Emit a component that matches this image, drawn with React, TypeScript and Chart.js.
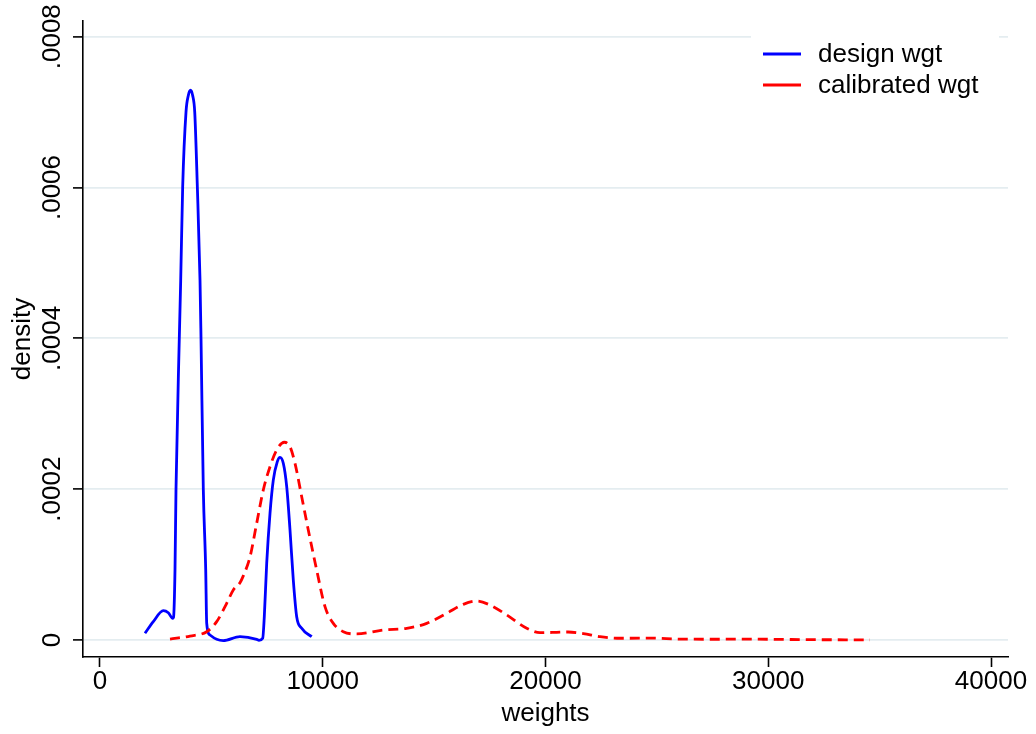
import React, { useEffect, useRef } from 'react';
import { Chart, registerables } from 'chart.js';

Chart.register(...registerables);

// design weight density (blue, solid)
const designX = [2020, 2393, 2842, 3066, 3264, 3300, 3367, 3412, 3560, 3623, 3712, 3861, 3965, 4063, 4160, 4253, 4370, 4490, 4535, 4638, 4746, 4790, 4938, 5239, 5535, 6285, 7035, 7138, 7304, 7376, 7484, 7632, 7780, 7960, 8081, 8229, 8382, 8530, 8678, 8830, 9055, 9504];
const designY = [8.9e-6, 2.43e-5, 3.89e-5, 3.62e-5, 2.88e-5, 3.0e-5, 9.3e-5, 2.0e-4, 4.0e-4, 4.77e-4, 6.01e-4, 7.0e-4, 7.22e-4, 7.29e-4, 7.22e-4, 7.0e-4, 6.01e-4, 4.77e-4, 4.0e-4, 2.0e-4, 9.3e-5, 2.25e-5, 6.6e-6, 9e-7, -9e-7, 4.4e-6, 9e-7, -4e-7, 2.3e-6, 3.09e-5, 1.017e-4, 1.68e-4, 2.12e-4, 2.365e-4, 2.423e-4, 2.344e-4, 2.033e-4, 1.459e-4, 7.96e-5, 3.09e-5, 1.55e-5, 4.4e-6];

// calibrated weight density (red, dashed)
const calibX = [3143, 4040, 4790, 5239, 5688, 5984, 6285, 6433, 6734, 7035, 7331, 7632, 7933, 8274, 8530, 8754, 9055, 9351, 9728, 10101, 10474, 10923, 11524, 12718, 13769, 14667, 15565, 16310, 16911, 17508, 18258, 19156, 19753, 20503, 21010, 21697, 22447, 23345, 24691, 26038, 27520, 29046, 30528, 32009, 33446, 34568];
const calibY = [1.3e-6, 5.3e-6, 1.1e-5, 2.43e-5, 4.87e-5, 6.63e-5, 7.6e-5, 8.5e-5, 1.1e-4, 1.548e-4, 1.989e-4, 2.298e-4, 2.52e-4, 2.622e-4, 2.564e-4, 2.344e-4, 1.9e-4, 1.459e-4, 9.28e-5, 4.42e-5, 2.21e-5, 1.1e-5, 8e-6, 1.33e-5, 1.55e-5, 2.21e-5, 3.54e-5, 4.73e-5, 5.17e-5, 4.64e-5, 3.32e-5, 1.55e-5, 9.7e-6, 1.02e-5, 1.06e-5, 8.6e-6, 4.4e-6, 2.3e-6, 2.5e-6, 1.2e-6, 1e-6, 1.2e-6, 8e-7, 4e-7, 3e-7, 2e-7];

const seriesLabels = ['design wgt', 'calibrated wgt'];
const xTickValues = [0, 10000, 20000, 30000, 40000];
const yTickValues = [0, 0.0002, 0.0004, 0.0006, 0.0008];
const yTickLabels = ['0', '.0002', '.0004', '.0006', '.0008'];
const xTitle = 'weights';
const yTitle = 'density';

const FONT = 'Liberation Sans, Arial, sans-serif';
const BLUE = '#0000ff';
const RED = '#ff0000';
const GRID = '#e4edf0';

const legendPlugin = {
  id: 'stataLegend',
  afterDraw(chart: any) {
    const { ctx, chartArea } = chart;
    const r = chartArea.right;
    const t = chartArea.top;
    ctx.save();
    ctx.fillStyle = '#ffffff';
    ctx.fillRect(r - 257, t + 8, 248, 82);
    const colors = [BLUE, RED];
    seriesLabels.forEach((lab, i) => {
      const y = t + 33 + i * 31;
      ctx.strokeStyle = colors[i];
      ctx.lineWidth = 2.8;
      ctx.setLineDash([]);
      ctx.beginPath();
      ctx.moveTo(r - 245, y);
      ctx.lineTo(r - 207, y);
      ctx.stroke();
      ctx.fillStyle = '#000000';
      ctx.font = `26px ${FONT}`;
      ctx.textAlign = 'left';
      ctx.textBaseline = 'middle';
      ctx.fillText(lab, r - 190, y + 1);
    });
    ctx.restore();
  },
};

export default function App() {
  const ref = useRef<HTMLCanvasElement>(null);
  useEffect(() => {
    document.body.style.margin = '0';
    const chart = new Chart(ref.current as HTMLCanvasElement, {
      type: 'line',
      data: {
        datasets: [
          {
            label: seriesLabels[0],
            data: designX.map((x, i) => ({ x, y: designY[i] })),
            borderColor: BLUE,
            borderWidth: 2.8,
            pointRadius: 0,
            cubicInterpolationMode: 'monotone',
            fill: false,
            order: 2,
          },
          {
            label: seriesLabels[1],
            data: calibX.map((x, i) => ({ x, y: calibY[i] })),
            borderColor: RED,
            borderWidth: 2.8,
            borderDash: [10, 6],
            pointRadius: 0,
            cubicInterpolationMode: 'monotone',
            fill: false,
            order: 1,
          },
        ],
      },
      options: {
        animation: false,
        responsive: false,
        devicePixelRatio: 1,
        layout: { padding: { left: 0, right: 28, top: 21, bottom: 0 } },
        plugins: {
          legend: { display: false },
          tooltip: { enabled: false },
        },
        scales: {
          x: {
            type: 'linear',
            min: -763,
            max: 40763,
            afterBuildTicks: (s: any) => {
              s.ticks = xTickValues.map((v) => ({ value: v }));
            },
            afterFit: (s: any) => {
              s.height = 77;
            },
            border: { display: true, color: '#000000', width: 1.6 },
            grid: {
              drawOnChartArea: false,
              drawTicks: true,
              tickLength: 10,
              tickColor: '#000000',
              tickWidth: 1.6,
            },
            ticks: {
              color: '#000000',
              font: { family: FONT, size: 26 },
              padding: -1,
              maxRotation: 0,
              minRotation: 0,
              callback: (v: any) => String(v),
            },
            title: {
              display: true,
              text: xTitle,
              color: '#000000',
              font: { family: FONT, size: 26 },
              padding: { top: 0, bottom: 5 },
            },
          },
          y: {
            type: 'linear',
            min: -0.00002254,
            max: 0.00082082,
            afterBuildTicks: (s: any) => {
              s.ticks = yTickValues.map((v) => ({ value: v }));
            },
            afterFit: (s: any) => {
              s.width = 83;
            },
            border: { display: true, color: '#000000', width: 1.6 },
            grid: {
              drawOnChartArea: true,
              color: GRID,
              lineWidth: 1.8,
              drawTicks: true,
              tickLength: 10,
              tickColor: '#000000',
              tickWidth: 1.6,
            },
            ticks: {
              color: '#000000',
              font: { family: FONT, size: 26 },
              minRotation: 90,
              maxRotation: 90,
              crossAlign: 'center',
              padding: -12,
              callback: (v: any) => {
                const i = yTickValues.findIndex((t) => Math.abs(t - v) < 1e-9);
                return i >= 0 ? yTickLabels[i] : '';
              },
            },
            title: {
              display: true,
              text: yTitle,
              color: '#000000',
              font: { family: FONT, size: 26 },
              padding: { top: 7, bottom: 0 },
            },
          },
        },
      },
      plugins: [legendPlugin],
    } as any);
    return () => chart.destroy();
  }, []);
  return (
    <div style={{ width: 1036, height: 734 }}>
      <canvas ref={ref} width={1036} height={734} style={{ display: 'block' }} />
    </div>
  );
}
